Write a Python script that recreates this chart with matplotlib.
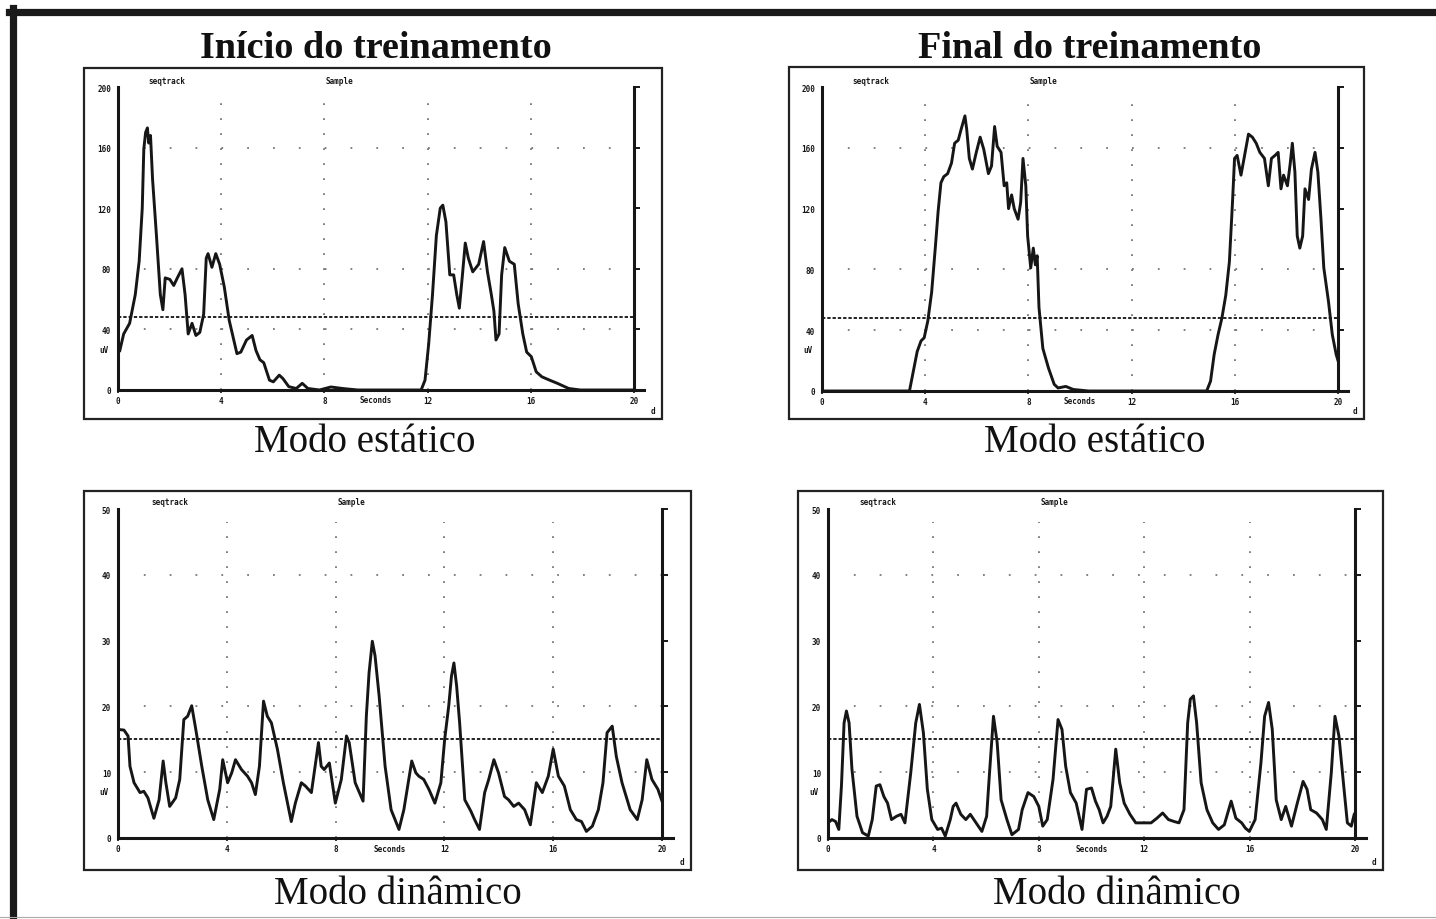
import matplotlib.pyplot as plt
from matplotlib.patches import Rectangle
from matplotlib.lines import Line2D

# ---- valores (tempo em s, amplitude em uV) ----
# Início do treinamento - modo estático
t_ini_est = [0.07, 0.22, 0.45, 0.67, 0.82, 0.94, 1.00, 1.07, 1.14, 1.19,
             1.26, 1.34, 1.49, 1.64, 1.74, 1.83, 2.01, 2.16, 2.30, 2.48,
             2.60, 2.72, 2.87, 3.02, 3.17, 3.32, 3.42, 3.49, 3.64, 3.79,
             3.94, 4.12, 4.31, 4.46, 4.61, 4.76, 4.98, 5.20, 5.35, 5.50,
             5.65, 5.87, 6.02, 6.25, 6.39, 6.62, 6.91, 7.14, 7.36, 7.81,
             8.25, 8.70, 9.29, 11.75, 11.90, 12.04, 12.19, 12.34, 12.49, 12.59,
             12.71, 12.86, 13.01, 13.13, 13.23, 13.34, 13.46, 13.58, 13.75, 13.98,
             14.17, 14.32, 14.47, 14.57, 14.65, 14.77, 14.87, 14.99, 15.17, 15.36,
             15.51, 15.69, 15.84, 16.02, 16.21, 16.43, 16.73, 17.03, 17.47, 17.92,
             20.0]
v_ini_est = [26, 37, 44, 63, 85, 120, 159, 170, 173, 163,
             168, 139, 102, 63, 53, 74, 73, 69, 74, 80,
             63, 37, 44, 36, 38, 50, 87, 90, 81, 90,
             83, 68, 46, 35, 24, 25, 33, 36, 26, 20,
             18, 6.5, 5.4, 9.8, 7.6, 2.2, 1, 4.4, 1, 0,
             2, 1, 0, 0, 6.5, 30, 63, 102, 120, 122,
             111, 76, 76, 63, 54, 74, 97, 87, 78, 83,
             98, 78, 63, 52, 33, 37, 76, 94, 85, 83,
             57, 37, 25, 22, 12, 8.7, 6.5, 4.4, 1, 0,
             0]

# Final do treinamento - modo estático
t_fin_est = [0, 3.39, 3.54, 3.69, 3.84, 3.96, 4.10, 4.25, 4.40, 4.50,
             4.61, 4.72, 4.87, 5.02, 5.14, 5.28, 5.39, 5.54, 5.61, 5.71,
             5.83, 5.98, 6.13, 6.27, 6.45, 6.57, 6.69, 6.79, 6.94, 7.06,
             7.16, 7.23, 7.35, 7.45, 7.60, 7.70, 7.79, 7.90, 7.97, 8.09,
             8.19, 8.27, 8.34, 8.41, 8.56, 8.78, 9.00, 9.15, 9.45, 9.74,
             10.33, 14.91, 15.06, 15.20, 15.35, 15.50, 15.65, 15.79, 15.91, 15.99,
             16.09, 16.24, 16.38, 16.53, 16.68, 16.83, 16.97, 17.15, 17.30, 17.42,
             17.56, 17.68, 17.79, 17.89, 18.04, 18.15, 18.23, 18.33, 18.42, 18.52,
             18.63, 18.72, 18.86, 18.97, 19.11, 19.22, 19.34, 19.45, 19.63, 19.78,
             19.93, 20.0]
v_fin_est = [0, 0, 13, 26, 33, 35, 46, 65, 96, 118,
             137, 141, 143, 150, 163, 165, 172, 181, 172, 153,
             146, 157, 167, 159, 143, 148, 174, 161, 157, 135,
             137, 120, 129, 120, 113, 124, 153, 135, 102, 81,
             94, 83, 89, 55, 28, 15, 4.4, 2, 3, 1,
             0, 0, 6.5, 24, 37, 48, 63, 85, 124, 153,
             155, 142, 155, 169, 167, 163, 157, 153, 135, 153,
             155, 157, 133, 142, 135, 150, 163, 144, 102, 94,
             102, 133, 126, 146, 157, 144, 113, 81, 59, 37,
             24, 20]

# Início do treinamento - modo dinâmico
t_ini_din = [0, 0.22, 0.37, 0.44, 0.59, 0.81, 0.95, 1.10, 1.32, 1.51,
             1.66, 1.76, 1.90, 2.12, 2.27, 2.42, 2.56, 2.71, 2.86, 3.08,
             3.30, 3.52, 3.74, 3.85, 4.03, 4.18, 4.32, 4.54, 4.76, 4.91,
             5.05, 5.20, 5.35, 5.49, 5.64, 5.86, 6.08, 6.37, 6.52, 6.74,
             6.89, 7.11, 7.37, 7.47, 7.58, 7.77, 7.99, 8.21, 8.40, 8.50,
             8.72, 9.01, 9.13, 9.23, 9.35, 9.45, 9.60, 9.82, 10.04, 10.33,
             10.51, 10.67, 10.80, 10.95, 11.06, 11.24, 11.43, 11.65, 11.87, 12.01,
             12.16, 12.26, 12.35, 12.45, 12.56, 12.75, 12.97, 13.11, 13.29, 13.48,
             13.63, 13.82, 13.99, 14.21, 14.36, 14.55, 14.73, 14.95, 15.16, 15.38,
             15.60, 15.82, 16.00, 16.19, 16.41, 16.63, 16.85, 17.04, 17.22, 17.44,
             17.66, 17.83, 17.98, 18.17, 18.32, 18.53, 18.83, 19.09, 19.27, 19.44,
             19.63, 19.85, 20.0]
v_ini_din = [16.5, 16.4, 15.5, 10.9, 8.4, 6.9, 7.1, 6.1, 3.0, 5.8,
             11.7, 8.4, 4.8, 6.1, 8.9, 18.0, 18.5, 20.1, 16.5, 10.9,
             5.8, 2.8, 7.4, 11.9, 8.4, 9.9, 11.9, 10.4, 9.4, 8.4,
             6.6, 10.9, 20.8, 18.5, 17.5, 13.5, 8.4, 2.5, 5.3, 8.4,
             7.9, 6.9, 14.5, 10.9, 10.4, 11.4, 5.3, 8.9, 15.5, 14.5,
             8.4, 5.6, 18.5, 25.1, 29.9, 27.7, 21.6, 10.9, 4.3, 1.3,
             4.3, 8.4, 11.7, 9.9, 9.4, 8.9, 7.4, 5.3, 8.4, 15.0,
             20.1, 24.6, 26.6, 23.1, 17.5, 5.8, 4.1, 2.8, 1.3, 6.9,
             8.9, 11.9, 9.9, 6.3, 5.8, 4.8, 5.3, 4.3, 2.0, 8.4,
             6.9, 9.4, 13.5, 9.4, 7.9, 4.3, 2.8, 2.5, 1.0, 1.8,
             4.3, 8.4, 16.0, 17.0, 12.4, 8.4, 4.3, 2.8, 5.8, 11.9,
             8.9, 7.4, 5.6]

# Final do treinamento - modo dinâmico
t_fin_din = [0, 0.15, 0.29, 0.41, 0.51, 0.61, 0.70, 0.80, 0.91, 1.10,
             1.31, 1.53, 1.68, 1.83, 1.97, 2.12, 2.26, 2.41, 2.60, 2.77,
             2.92, 3.14, 3.33, 3.47, 3.62, 3.77, 3.94, 4.16, 4.31, 4.45,
             4.64, 4.75, 4.86, 5.04, 5.23, 5.40, 5.62, 5.84, 6.02, 6.13,
             6.28, 6.42, 6.57, 6.79, 6.98, 7.23, 7.37, 7.59, 7.81, 8.00,
             8.15, 8.32, 8.54, 8.73, 8.88, 9.02, 9.20, 9.42, 9.64, 9.81,
             10.00, 10.15, 10.29, 10.44, 10.59, 10.73, 10.92, 11.07, 11.24, 11.46,
             11.68, 11.97, 12.26, 12.48, 12.70, 12.92, 13.14, 13.32, 13.51, 13.65,
             13.75, 13.87, 13.99, 14.16, 14.38, 14.60, 14.82, 15.04, 15.30, 15.48,
             15.70, 15.84, 15.99, 16.21, 16.43, 16.57, 16.72, 16.86, 17.01, 17.20,
             17.37, 17.59, 17.81, 18.03, 18.18, 18.32, 18.54, 18.76, 18.91, 19.10,
             19.24, 19.39, 19.56, 19.71, 19.86, 19.97, 20.0]
v_fin_din = [2.3, 2.8, 2.5, 1.3, 7.9, 17.5, 19.3, 17.5, 10.4, 3.3,
             0.8, 0.3, 2.8, 7.9, 8.1, 6.3, 5.3, 2.8, 3.3, 3.6,
             2.3, 9.9, 17.5, 20.3, 16.0, 7.4, 2.8, 1.3, 1.5, 0.3,
             2.8, 4.8, 5.3, 3.6, 2.8, 3.6, 2.3, 1.0, 3.3, 9.9,
             18.5, 14.5, 5.8, 2.8, 0.5, 1.3, 4.3, 6.9, 6.3, 4.8,
             1.8, 2.8, 8.9, 18.0, 16.5, 10.9, 6.9, 5.3, 1.3, 7.4,
             7.6, 5.6, 4.3, 2.3, 3.3, 4.8, 13.5, 8.4, 5.3, 3.6,
             2.3, 2.3, 2.3, 3.0, 3.8, 2.8, 2.5, 2.3, 4.3, 17.5,
             21.1, 21.6, 17.5, 8.4, 4.3, 2.3, 1.3, 2.0, 5.6, 3.0,
             2.3, 1.5, 1.0, 2.8, 11.4, 18.5, 20.6, 16.5, 5.8, 2.8,
             4.8, 1.8, 5.3, 8.6, 7.4, 4.3, 3.8, 2.8, 1.3, 9.9,
             18.5, 15.5, 8.4, 2.3, 1.8, 3.6, 3.8]

x_ticks = [0, 4, 8, 12, 16, 20]
y_ticks_est = [0, 40, 80, 120, 160, 200]
y_ticks_din = [0, 10, 20, 30, 40, 50]
grade_est = [40, 80, 160]
grade_din = [10, 20, 40]
limiar_est = 48
limiar_din = 15

titulos = ["Início do treinamento", "Final do treinamento"]
subtitulos = ["Modo estático", "Modo dinâmico"]

W, H = 1436, 920
XMAX = 20.4
TINTA = '#161616'
MINI = dict(fontsize=5.5, fontweight='bold', family='DejaVu Sans Mono', color=TINTA)


def fx(x):
    return x / W


def fy(y):
    return 1 - y / H


def painel(fig, moldura, eixo, t, v, ymax, yticks, grade, limiar, uv_y):
    x0, y0, x1, y1 = moldura
    esq, topo, dir_, base = eixo

    # moldura do painel
    fig.add_artist(Rectangle((fx(x0), fy(y1)), (x1 - x0) / W, (y1 - y0) / H,
                             transform=fig.transFigure, fill=False, lw=1.6, ec='#222'))
    fig.text(fx(x1 - 9), fy(y1 - 8), 'd', ha='center', va='center', **MINI)

    ax = fig.add_axes([fx(esq), fy(base), (dir_ - esq) * XMAX / 20 / W, (base - topo) / H])
    ax.patch.set_alpha(0)
    ax.set_xlim(0, XMAX)
    ax.set_ylim(0, ymax)

    ax.spines['top'].set_visible(False)
    ax.spines['right'].set_position(('data', 20))
    ax.spines['right'].set_bounds(0, ymax)
    for s in ['left', 'bottom', 'right']:
        ax.spines[s].set_linewidth(2.2)
        ax.spines[s].set_color(TINTA)

    ax.set_yticks(yticks)
    ax.set_yticklabels([str(y) for y in yticks])
    ax.set_xticks(x_ticks)
    ax.set_xticklabels([str(x) for x in x_ticks])
    ax.tick_params(axis='y', left=False, right=True, labelleft=True, direction='out',
                   length=4, width=1.4, pad=1, colors=TINTA)
    ax.tick_params(axis='x', length=2, width=1.2, pad=2, colors=TINTA)
    for lab in ax.get_xticklabels() + ax.get_yticklabels():
        lab.set_fontsize(5.5)
        lab.set_fontweight('bold')
        lab.set_family('DejaVu Sans Mono')

    # grade pontilhada
    for g in grade:
        ax.axhline(g, xmax=20 / XMAX, color='#777', lw=1.3, dashes=(1.3, 17.3))
    for g in [4, 8, 12, 16]:
        ax.axvline(g, ymax=0.96, color='#777', lw=1.3, dashes=(1.3, 9.5))

    # limiar
    ax.axhline(limiar, xmax=20 / XMAX, color='#222', lw=1.4, dashes=(2.4, 1.4))

    ax.plot(t, v, color=TINTA, lw=2.1, solid_joinstyle='round')

    ax.text(1.9, 1.008, 'seqtrack', transform=ax.get_xaxis_transform(),
            ha='center', va='bottom', **MINI)
    ax.text(8.6, 1.008, 'Sample', transform=ax.get_xaxis_transform(),
            ha='center', va='bottom', **MINI)
    ax.text(10.0, -0.018, 'Seconds', transform=ax.get_xaxis_transform(),
            ha='center', va='top', **MINI)
    ax.text(-0.35, uv_y, 'uV', ha='right', va='center', **MINI)
    return ax


def main():
    plt.rcParams['lines.scale_dashes'] = False
    fig = plt.figure(figsize=(W / 100, H / 100), dpi=100)

    # borda externa (topo e esquerda) e linha cinza de baixo
    fig.add_artist(Line2D([fx(9), 1], [fy(12.5), fy(12.5)], lw=5.2, color='#1a1a1a',
                          transform=fig.transFigure))
    fig.add_artist(Line2D([fx(12.5), fx(12.5)], [fy(9), 0], lw=5.2, color='#1a1a1a',
                          transform=fig.transFigure))
    fig.add_artist(Line2D([0, 1], [fy(918), fy(918)], lw=0.8, color='#aaa',
                          transform=fig.transFigure))

    painel(fig, (84, 69, 662, 420), (118, 88, 634, 391), t_ini_est, v_ini_est,
           200, y_ticks_est, grade_est, limiar_est, 27)
    painel(fig, (789, 68, 1364, 420), (822, 88, 1338, 392), t_fin_est, v_fin_est,
           200, y_ticks_est, grade_est, limiar_est, 27)
    painel(fig, (84, 492, 691, 871), (118, 510, 662, 839), t_ini_din, v_ini_din,
           50, y_ticks_din, grade_din, limiar_din, 7)
    painel(fig, (798, 492, 1383, 871), (828, 510, 1355, 839), t_fin_din, v_fin_din,
           50, y_ticks_din, grade_din, limiar_din, 7)

    serif = ['Liberation Serif', 'DejaVu Serif']
    fig.text(fx(376), fy(48), titulos[0], ha='center', va='center', fontsize=27.5,
             fontweight='bold', family=serif, color='#111')
    fig.text(fx(1090), fy(48), titulos[1], ha='center', va='center', fontsize=27.5,
             fontweight='bold', family=serif, color='#111')
    fig.text(fx(365), fy(443), subtitulos[0], ha='center', va='center', fontsize=28,
             family=serif, color='#111')
    fig.text(fx(1095), fy(443), subtitulos[0], ha='center', va='center', fontsize=28,
             family=serif, color='#111')
    fig.text(fx(398), fy(895), subtitulos[1], ha='center', va='center', fontsize=28,
             family=serif, color='#111')
    fig.text(fx(1117), fy(895), subtitulos[1], ha='center', va='center', fontsize=28,
             family=serif, color='#111')

    fig.savefig('out.png', dpi=100, facecolor='white')


if __name__ == "__main__":
    main()
